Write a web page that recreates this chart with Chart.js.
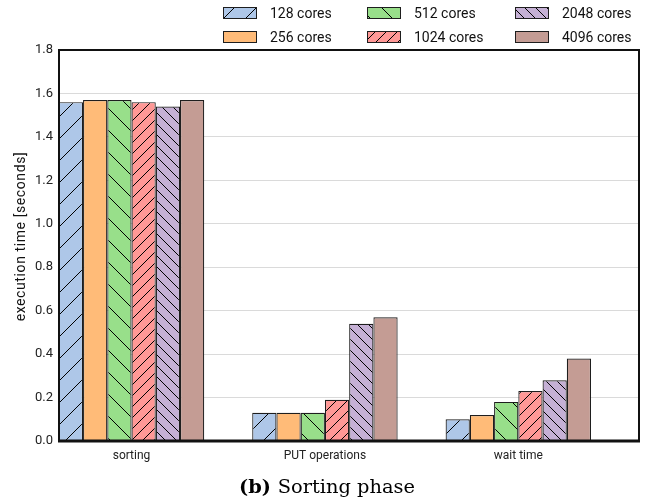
<!DOCTYPE html>
<html><head><meta charset="utf-8">
<script src="https://cdn.jsdelivr.net/npm/chart.js@4/dist/chart.umd.min.js"></script>
<style>html,body{margin:0;padding:0;background:#fff;overflow:hidden}#wrap{width:649px;height:504px;position:relative}</style>
</head><body><div id="wrap"><canvas id="c" width="649" height="504"></canvas></div>
<script>
// ---- data ----
const categories = ['sorting', 'PUT operations', 'wait time'];
const seriesNames = ['128 cores', '256 cores', '512 cores', '1024 cores', '2048 cores', '4096 cores'];
const cores128  = [1.56, 0.13, 0.10];
const cores256  = [1.57, 0.13, 0.12];
const cores512  = [1.57, 0.13, 0.18];
const cores1024 = [1.56, 0.19, 0.23];
const cores2048 = [1.54, 0.54, 0.28];
const cores4096 = [1.57, 0.57, 0.38];
const yTicks = [0.0, 0.2, 0.4, 0.6, 0.8, 1.0, 1.2, 1.4, 1.6, 1.8];
const yTitle = 'execution time [seconds]';
const captionBold = '(b)';
const captionText = 'Sorting phase';

// ---- styles ----
const seriesValues = [cores128, cores256, cores512, cores1024, cores2048, cores4096];
const fills = ['#aec7e8', '#ffbb78', '#98df8a', '#ff9896', '#c5b0d5', '#c49c94'];
const hatches = [['/', 22], null, ['\\', 22], ['/', 11], ['\\', 11], null];
const FONT = 'Roboto';

const canvas = document.getElementById('c');
const ctx = canvas.getContext('2d');

function makePattern(color, hatch) {
  if (!hatch) return color;
  const [dir, d] = hatch;
  const c = document.createElement('canvas');
  c.width = d; c.height = d;
  const g = c.getContext('2d');
  g.fillStyle = color; g.fillRect(0, 0, d, d);
  g.strokeStyle = '#000'; g.lineWidth = 1;
  g.beginPath();
  for (const k of [-1, 0, 1]) {
    if (dir === '/') { g.moveTo(k * d, d); g.lineTo(k * d + d, 0); }
    else { g.moveTo(k * d, 0); g.lineTo(k * d + d, d); }
  }
  g.stroke();
  return ctx.createPattern(c, 'repeat');
}
const patterns = fills.map((f, i) => makePattern(f, hatches[i]));

const datasets = seriesNames.map((name, i) => ({
  label: name,
  data: seriesValues[i].map((v, j) => ({ x: j, y: v })),
  backgroundColor: patterns[i],
  borderColor: '#1e1e1e',
  borderWidth: 1.2,
  borderSkipped: 'bottom',
  barPercentage: 1.0,
  categoryPercentage: 0.752
}));

const decorPlugin = {
  id: 'decor',
  afterDatasetsDraw(chart) {
    const { ctx, chartArea: a } = chart;
    ctx.save();
    ctx.strokeStyle = '#111';
    ctx.lineWidth = 2;
    ctx.strokeRect(a.left, a.top, a.right - a.left, a.bottom - a.top);
    ctx.lineWidth = 3;
    ctx.beginPath(); ctx.moveTo(a.left - 1, a.bottom); ctx.lineTo(a.right + 1, a.bottom); ctx.stroke();
    ctx.restore();
  },
  afterDraw(chart) {
    const { ctx, chartArea: a } = chart;
    ctx.save();
    // legend (column-major, 3 columns x 2 rows)
    const colX = [223, 367, 515];
    const rowY = [13, 37];
    ctx.font = '14px ' + FONT;
    ctx.textBaseline = 'middle';
    seriesNames.forEach((name, i) => {
      const col = Math.floor(i / 2), row = i % 2;
      const x = colX[col], y = rowY[row];
      ctx.fillStyle = patterns[i];
      ctx.fillRect(x, y - 6, 34, 12);
      ctx.strokeStyle = '#1e1e1e'; ctx.lineWidth = 1;
      ctx.strokeRect(x + 0.5, y - 5.5, 33, 11);
      ctx.fillStyle = '#111';
      ctx.fillText(name, x + 47, y + 1);
    });
    // y title
    ctx.save();
    ctx.translate(21, (a.top + a.bottom) / 2 - 9);
    ctx.rotate(-Math.PI / 2);
    ctx.textAlign = 'center';
    ctx.font = '14px ' + FONT;
    try { ctx.letterSpacing = '0.6px'; } catch (e) {}
    ctx.fillStyle = '#111';
    ctx.fillText(yTitle, 0, 0);
    try { ctx.letterSpacing = '0px'; } catch (e) {}
    ctx.restore();
    // caption
    const size = 20;
    ctx.font = 'bold ' + size + 'px "DejaVu Serif"'; const wb = ctx.measureText(captionBold + ' ').width;
    ctx.font = size + 'px "DejaVu Serif"'; const wr = ctx.measureText(captionText).width;
    const s2 = size * 176 / (wb + wr);
    ctx.font = 'bold ' + s2 + 'px "DejaVu Serif"';
    const wb2 = ctx.measureText(captionBold + ' ').width;
    ctx.font = s2 + 'px "DejaVu Serif"';
    const wr2 = ctx.measureText(captionText).width;
    const x0 = 327 - (wb2 + wr2) / 2;
    ctx.textAlign = 'left';
    ctx.fillStyle = '#000';
    ctx.font = 'bold ' + s2 + 'px "DejaVu Serif"';
    ctx.fillText(captionBold + ' ', x0, 488);
    ctx.font = s2 + 'px "DejaVu Serif"';
    ctx.fillText(captionText, x0 + wb2, 488);
    ctx.restore();
  }
};

new Chart(canvas, {
  type: 'bar',
  data: { datasets },
  options: {
    responsive: false,
    animation: false,
    devicePixelRatio: 1,
    layout: { padding: { top: 50, left: 0, right: 10, bottom: 38 } },
    plugins: { legend: { display: false }, tooltip: { enabled: false } },
    scales: {
      x: {
        type: 'linear',
        min: -0.375, max: 2.624,
        offset: false,
        grid: { display: false, drawTicks: false },
        border: { display: false },
        afterBuildTicks: s => { s.ticks = categories.map((c, i) => ({ value: i })); },
        afterFit: s => { s.height = 25; },
        ticks: {
          padding: 8,
          color: '#222',
          font: { family: FONT, size: 12 },
          callback: v => categories[v]
        }
      },
      y: {
        min: 0, max: 1.8,
        grid: { color: '#dadada', lineWidth: 1, drawTicks: false },
        border: { display: false },
        afterBuildTicks: s => { s.ticks = yTicks.map(v => ({ value: v })); },
        afterFit: s => { s.width = 59; },
        ticks: {
          padding: 6,
          color: '#222',
          font: { family: FONT, size: 13 },
          callback: v => Number(v).toFixed(1)
        }
      }
    }
  },
  plugins: [decorPlugin]
});
</script>
</body></html>
